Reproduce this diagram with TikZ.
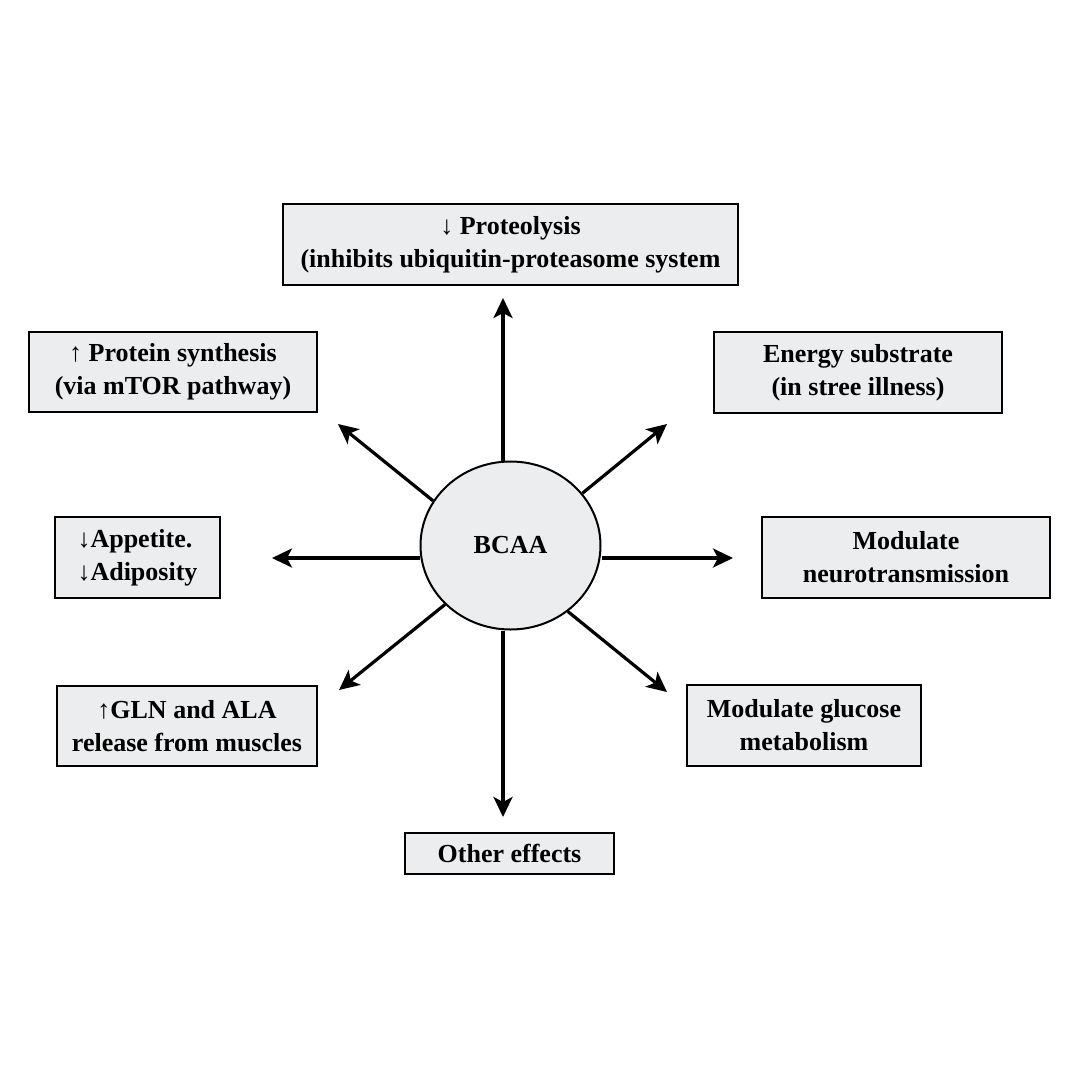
\documentclass[tikz,border=0pt]{standalone}
\usepackage{fontspec}
\setmainfont{Liberation Serif}
\usetikzlibrary{arrows.meta,shapes.geometric}
\definecolor{BoxGray}{HTML}{ECEDEE}

\begin{document}
\begin{tikzpicture}[
  x=1pt,y=-1pt,
  effect/.style={draw=black,fill=BoxGray,line width=2pt,inner sep=0pt,align=center,
    font=\fontsize{26}{33}\selectfont\bfseries},
  hub/.style={ellipse,draw=black,fill=BoxGray,line width=2pt,inner sep=0pt,
    minimum width=180pt,minimum height=168pt,font=\fontsize{26}{33}\selectfont\bfseries},
  link/.style={-{Stealth[length=20pt,width=19pt,inset=5pt]},line width=3.2pt}
]
  \useasboundingbox (0,0) rectangle (1080,1080);
  \node[hub] (bcaa) at (510.5,545.5) {BCAA};
  \node[effect,minimum width=455pt,minimum height=81pt] (prot) at (510.5,244.5)
    {↓ Proteolysis\\(inhibits ubiquitin-proteasome system};
  \node[effect,minimum width=288pt,minimum height=80pt] (synth) at (173,372)
    {↑ Protein synthesis\\(via mTOR pathway)};
  \node[effect,minimum width=288pt,minimum height=81pt] (energy) at (858,372.5)
    {Energy substrate\\(in stree illness)};
  \node[effect,minimum width=165pt,minimum height=81pt,align=left] (appet) at (137.5,557.5)
    {↓Appetite.\\↓Adiposity};
  \node[effect,minimum width=288pt,minimum height=81pt] (neuro) at (906,557.5)
    {Modulate\\neurotransmission};
  \node[effect,minimum width=260pt,minimum height=80pt] (gln) at (187,726)
    {↑GLN and ALA\\release from muscles};
  \node[effect,minimum width=234pt,minimum height=81pt] (gluc) at (804,725.5)
    {Modulate glucose\\metabolism};
  \node[effect,minimum width=209pt,minimum height=41pt] (other) at (509.5,853.5)
    {Other effects};

  \coordinate (tn) at (503,298);
  \coordinate (ts) at (503,817);
  \coordinate (tw) at (272,558);
  \coordinate (te) at (733,558);
  \coordinate (tnw) at (338,424);
  \coordinate (tne) at (667,424);
  \coordinate (tsw) at (339,690);
  \coordinate (tse) at (667,692);

  \draw[link] (bcaa.north -| tn) -- (tn);
  \draw[link] (bcaa.south -| ts) -- (ts);
  \draw[link] (bcaa.west |- tw) -- (tw);
  \draw[link] (bcaa.east |- te) -- (te);
  \foreach \a/\t in {150/tnw,36.4/tne,222.7/tsw,311.3/tse}
    \draw[link] (bcaa.\a) -- (\t);
\end{tikzpicture}
\end{document}
